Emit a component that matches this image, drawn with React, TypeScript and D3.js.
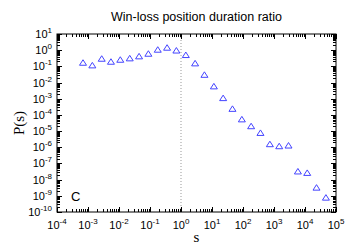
import React from "react";
import * as d3 from "d3";

// binned distribution
const sVals = [
  6.9e-4, 1.38e-3, 2.77e-3, 5.5e-3, 0.011, 0.0222, 0.0444, 0.0886, 0.178, 0.356,
  0.71, 1.43, 2.85, 5.7, 11.5, 22.9, 45.7, 91.9, 183, 366, 736, 1472, 2938,
  5900, 11800, 23500, 47300,
];
const pVals = [
  0.167, 0.115, 0.296, 0.193, 0.256, 0.313, 0.416, 0.603, 1.07, 1.42, 0.95,
  0.5, 0.153, 0.03, 5.8e-3, 1.09e-3, 2.37e-4, 5.3e-5, 2.0e-5, 7.7e-6, 1.55e-6,
  1.16e-6, 1.28e-6, 3.2e-8, 2.6e-8, 3.2e-9, 7.7e-10,
];
const xExps = [-4, -3, -2, -1, 0, 1, 2, 3, 4, 5];
const yExps = [1, 0, -1, -2, -3, -4, -5, -6, -7, -8, -9, -10];

const W = 357;
const H = 250;
const m = { left: 57, right: 336, top: 34, bottom: 212 };
const font = "'Liberation Sans', Arial, sans-serif";

export default function App() {
  const x = d3.scaleLog().domain([1e-4, 1e5]).range([m.left, m.right]);
  const y = d3.scaleLog().domain([1e-10, 10]).range([m.bottom, m.top]);

  const isMajor = (v: number) => Math.abs(Math.log10(v) - Math.round(Math.log10(v))) < 1e-6;
  const xt = x.ticks(90);
  const yt = y.ticks(110);

  const tri = (cx: number, cy: number) =>
    `M${cx},${cy - 3}L${cx + 3.5},${cy + 2.5}L${cx - 3.5},${cy + 2.5}Z`;

  return (
    <svg width={W} height={H} style={{ position: "absolute", left: 0, top: 0 }}>
      <rect width={W} height={H} fill="white" />
      <text x={(m.left + m.right) / 2} y={21} textAnchor="middle" fontFamily={font} fontSize={12.5}>
        Win-loss position duration ratio
      </text>

      {/* dotted line at s = 1 */}
      <line x1={x(1)} x2={x(1)} y1={m.top} y2={m.bottom} stroke="#999" strokeDasharray="1,2" />

      {xt.map((v, i) => {
        const len = isMajor(v) ? 5 : 3;
        const px = Math.round(x(v)) + 0.5;
        return (
          <g key={"x" + i} stroke="black">
            <line x1={px} x2={px} y1={m.bottom} y2={m.bottom - len} />
            <line x1={px} x2={px} y1={m.top} y2={m.top + len} />
          </g>
        );
      })}
      {yt.map((v, i) => {
        const len = isMajor(v) ? 5 : 3;
        const py = Math.round(y(v)) + 0.5;
        return (
          <g key={"y" + i} stroke="black">
            <line x1={m.left} x2={m.left + len} y1={py} y2={py} />
            <line x1={m.right} x2={m.right - len} y1={py} y2={py} />
          </g>
        );
      })}

      <rect x={m.left} y={m.top} width={m.right - m.left} height={m.bottom - m.top} fill="none" stroke="black" />

      {xExps.map((e) => (
        <text key={"xl" + e} x={x(Math.pow(10, e))} y={229} textAnchor="middle" fontFamily={font} fontSize={11}>
          10<tspan fontSize={8} dy={-5}>{e}</tspan>
        </text>
      ))}
      {yExps.map((e) => (
        <text key={"yl" + e} x={52} y={y(Math.pow(10, e)) + 4} textAnchor="end" fontFamily={font} fontSize={11}>
          10<tspan fontSize={8} dy={-5}>{e}</tspan>
        </text>
      ))}

      {sVals.map((s, i) => (
        <path key={"p" + i} d={tri(x(s), y(pVals[i]))} fill="none" stroke="#4444ff" strokeWidth={1} />
      ))}

      <text x={71} y={201} fontFamily={font} fontSize={13}>C</text>

      <text transform={`translate(24,${(m.top + m.bottom) / 2}) rotate(-90)`} textAnchor="middle" fontFamily="'Liberation Serif', 'Times New Roman', serif" fontSize={15}>
        P(s)
      </text>
      <text x={(m.left + m.right) / 2} y={242} textAnchor="middle" fontFamily="'Liberation Serif', 'Times New Roman', serif" fontSize={15}>
        s
      </text>
    </svg>
  );
}
